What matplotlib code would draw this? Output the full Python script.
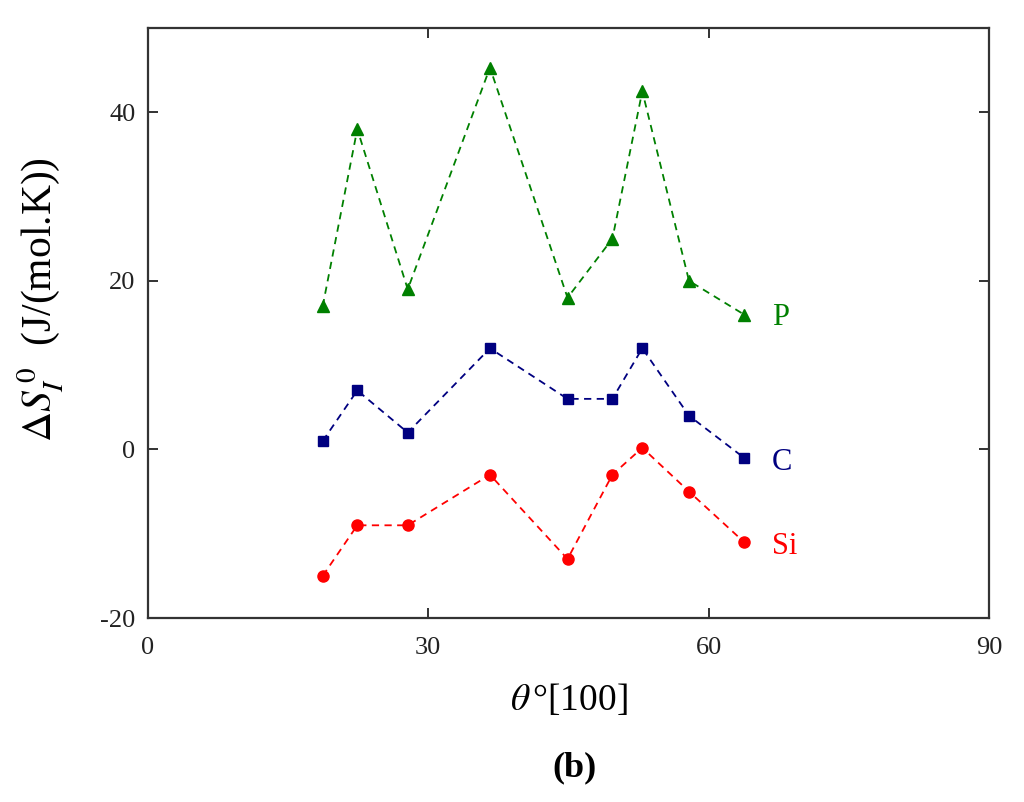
import matplotlib
matplotlib.use("Agg")
from matplotlib import pyplot as plt

plt.rcParams['font.family'] = ['Liberation Serif', 'DejaVu Serif']
plt.rcParams['mathtext.fontset'] = 'stix'
plt.rcParams['axes.unicode_minus'] = False

# angles (deg from [100])
theta = [18.7, 22.4, 27.8, 36.6, 44.9, 49.7, 52.9, 57.9, 63.8]
ds_p = [17, 38, 19, 45.3, 18, 25, 42.5, 20, 16]
ds_c = [1, 7, 2, 12, 6, 6, 12, 4, -1]
ds_si = [-15, -9, -9, -3, -13, -3, 0.2, -5, -11]

series = [
    ('P', ds_p, '#008000', '^', 9, 15.7),
    ('C', ds_c, '#000080', 's', 7, -1.6),
    ('Si', ds_si, '#ff0000', 'o', 8, -11.5),
]

fig = plt.figure(figsize=(10.24, 8.02), dpi=100)
ax = fig.add_axes([0.1445, 0.2294, 0.8213, 0.7357])

for name, vals, col, mk, ms, label_y in series:
    ax.plot(theta, vals, linestyle='--', dashes=(4, 3), color=col, lw=1.3,
            marker=mk, markersize=ms, markerfacecolor=col, markeredgecolor=col)
    ax.text(66.8, label_y, name, color=col, fontsize=22, va='center', ha='left')

ax.set_xlim(0, 90)
ax.set_ylim(-20, 50)
ax.set_xticks([0, 30, 60, 90])
ax.set_yticks([-20, 0, 20, 40])
ax.tick_params(direction='in', length=7, width=1.3, labelsize=19,
               top=True, right=True, colors='#222222')
ax.tick_params(axis='x', pad=14)
ax.tick_params(axis='y', pad=9)
for sp in ax.spines.values():
    sp.set_linewidth(1.6)
    sp.set_color('#333333')

ax.set_xlabel(r'$\theta\,$°[100]', fontsize=27, labelpad=16)
ax.set_ylabel(r'$\Delta S_{I}^{\,0}$  (J/(mol.K))', fontsize=30, labelpad=8)
ax.yaxis.set_label_coords(-0.098, 0.54)

fig.text(0.5615, 0.042, '(b)', fontsize=26, fontweight='bold', ha='center', va='center')

fig.savefig('out.png', dpi=100)
